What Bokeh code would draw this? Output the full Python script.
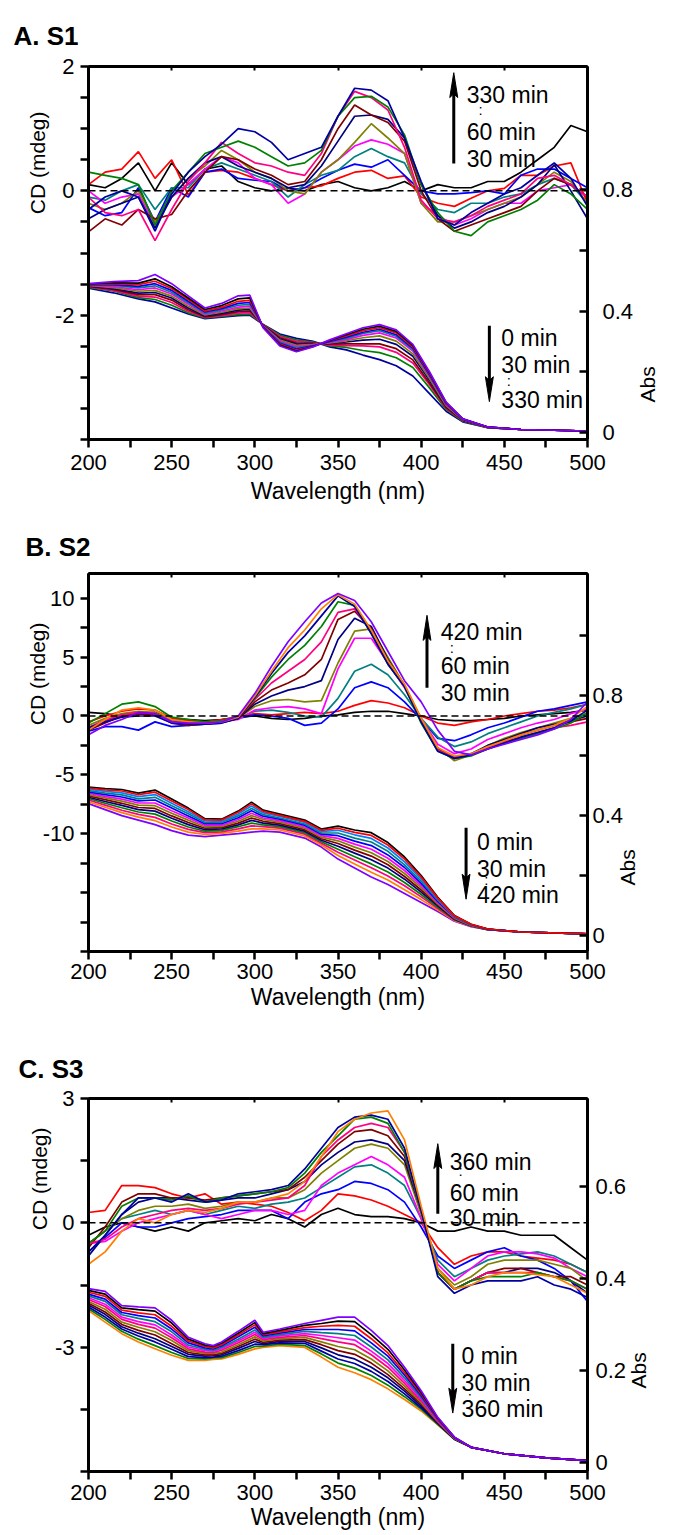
from bokeh.plotting import figure
from bokeh.models import (Range1d, LinearAxis, FixedTicker, Span, Label, Title,
                          NumeralTickFormatter, CustomJSTickFormatter)
from bokeh.layouts import column
from bokeh.embed import file_html
from bokeh.resources import INLINE

FONT = "Liberation Sans"
FS = "22px"
FT = "23px"

COL = {"black": "#000000", "red": "#FF0000", "blue": "#0000FF", "teal": "#008080",
       "magenta": "#FF00FF", "olive": "#808000", "navy": "#000080", "maroon": "#800000",
       "pink": "#FF0080", "green": "#008000", "darkblue": "#0000A0", "orange": "#FF8000",
       "violet": "#8000FF", "sky": "#0080FF"}

# ---------------- wavelength grids ----------------
WL_CD = [200, 210, 220, 230, 240, 250, 260, 270, 280, 290, 300, 310, 320, 330, 340, 350,
         360, 370, 380, 390, 400, 410, 420, 430, 440, 450, 460, 470, 480, 490, 500]
WL_ABS_A = [200, 215, 230, 240, 250, 260, 270, 280, 290, 297, 305, 315, 325, 335, 345, 355,
            365, 375, 385, 395, 405, 415, 425, 440, 460, 500]
WL_ABS_B = [200, 210, 220, 230, 240, 250, 260, 270, 280, 290, 298, 305, 315, 330, 340, 350,
            360, 370, 380, 390, 400, 410, 420, 430, 440, 460, 500]
WL_ABS_C = [200, 210, 220, 230, 240, 250, 260, 270, 275, 280, 290, 300, 305, 315, 330, 340,
            350, 360, 370, 380, 390, 400, 410, 420, 430, 450, 475, 500]

# ---------------- Panel A (S1) CD, mdeg ----------------
A_CD_BLACK = [0.1, 0.05, 0.2, 0.45, 0.0, 0.45, 0.1, 0.35, 0.4, 0.15, 0.05, 0.0, 0.05, 0.0, 0.1, 0.15, 0.05, 0.0, 0.05, 0.15, 0.0, 0.1, 0.05, 0.05, 0.15, 0.15, 0.3, 0.5, 0.7, 1.05, 0.95]
A_CD_RED = [0.1, 0.3, 0.35, 0.63, 0.2, 0.5, -0.07, 0.3, 0.33, 0.3, 0.2, 0.1, 0.0, 0.05, 0.08, 0.2, 0.3, 0.33, 0.2, 0.24, -0.1, -0.2, -0.25, -0.12, 0.0, 0.04, 0.25, 0.25, 0.4, 0.45, -0.2]
A_CD_BLUE = [-0.27, -0.4, -0.35, 0.05, -0.5, 0.05, -0.1, 0.3, 0.35, 0.2, 0.17, 0.15, 0.0, 0.05, 0.2, 0.33, 0.43, 0.38, 0.5, 0.25, 0.0, -0.05, -0.05, -0.03, 0.0, -0.05, 0.25, 0.35, 0.35, 0.2, 0.05]
A_CD_TEAL = [-0.1, -0.15, 0.0, 0.1, -0.3, 0.05, 0.05, 0.35, 0.45, 0.35, 0.25, 0.15, -0.1, 0.1, 0.25, 0.33, 0.55, 0.68, 0.55, 0.45, -0.05, -0.3, -0.35, -0.2, -0.2, -0.1, -0.05, 0.1, 0.2, 0.1, -0.2]
A_CD_MAGENTA = [0.0, -0.2, -0.1, -0.05, -0.55, -0.1, 0.1, 0.35, 0.55, 0.45, 0.2, 0.1, -0.2, -0.05, 0.3, 0.5, 0.72, 0.82, 0.75, 0.6, -0.2, -0.4, -0.55, -0.45, -0.3, -0.2, -0.2, 0.0, 0.05, 0.1, -0.1]
A_CD_OLIVE = [-0.2, -0.3, -0.2, 0.0, -0.5, -0.1, 0.2, 0.4, 0.65, 0.5, 0.3, 0.2, 0.0, -0.05, 0.3, 0.5, 0.78, 1.08, 0.85, 0.6, -0.2, -0.5, -0.5, -0.4, -0.3, -0.2, -0.1, 0.1, 0.3, 0.15, -0.2]
A_CD_NAVY = [-0.45, -0.3, -0.2, -0.1, -0.6, -0.1, 0.2, 0.45, 0.55, 0.4, 0.3, 0.2, 0.05, 0.1, 0.4, 0.8, 1.2, 1.22, 1.15, 0.85, 0.1, -0.4, -0.6, -0.5, -0.35, -0.25, -0.1, 0.1, 0.42, 0.0, -0.45]
A_CD_MAROON = [-0.66, -0.45, -0.55, -0.3, -0.45, -0.38, 0.0, 0.3, 0.55, 0.5, 0.35, 0.25, 0.1, 0.15, 0.5, 1.0, 1.38, 1.22, 1.1, 0.8, 0.0, -0.45, -0.65, -0.55, -0.45, -0.35, -0.25, 0.0, 0.2, 0.1, -0.1]
A_CD_PINK = [-0.1, -0.35, -0.4, -0.3, -0.8, -0.3, 0.15, 0.45, 0.78, 0.6, 0.45, 0.4, 0.3, 0.25, 0.6, 1.2, 1.6, 1.5, 1.3, 0.7, -0.15, -0.45, -0.5, -0.4, -0.25, -0.15, -0.05, 0.2, 0.25, 0.1, -0.1]
A_CD_GREEN = [0.3, 0.25, 0.2, 0.1, -0.55, 0.0, 0.3, 0.6, 0.7, 0.8, 0.7, 0.55, 0.4, 0.45, 0.65, 1.2, 1.5, 1.52, 1.35, 0.9, 0.1, -0.35, -0.65, -0.72, -0.5, -0.4, -0.3, -0.15, 0.1, -0.05, -0.3]
A_CD_DARKBLUE = [-0.3, -0.1, 0.0, -0.1, -0.65, -0.05, 0.3, 0.55, 0.75, 1.0, 0.95, 0.78, 0.5, 0.6, 0.7, 1.2, 1.65, 1.62, 1.45, 0.85, 0.15, -0.45, -0.55, -0.35, -0.2, -0.05, 0.05, 0.25, 0.45, 0.2, -0.25]

# ---------------- Panel A (S1) Abs ----------------
A_ABS_VIOLET = [.490, .497, .500, .520, .490, .450, .410, .425, .450, .452, .345, .285, .266, .282, .305, .325, .345, .355, .338, .290, .200, .100, .045, .018, .010, .005]
A_ABS_BLACK = [.489, .493, .492, .506, .480, .443, .405, .418, .440, .443, .346, .288, .268, .283, .303, .322, .340, .350, .333, .286, .197, .099, .045, .018, .010, .005]
A_ABS_RED = [.488, .490, .487, .498, .474, .438, .400, .412, .432, .435, .347, .291, .271, .284, .302, .318, .335, .345, .328, .281, .194, .097, .044, .018, .010, .005]
A_ABS_BLUE = [.487, .487, .481, .490, .468, .432, .397, .408, .425, .428, .348, .294, .275, .285, .300, .314, .330, .340, .322, .277, .190, .095, .044, .018, .010, .005]
A_ABS_TEAL = [.486, .484, .476, .483, .462, .427, .393, .404, .419, .422, .349, .297, .279, .286, .299, .310, .326, .335, .317, .273, .188, .094, .043, .018, .010, .005]
A_ABS_MAGENTA = [.485, .480, .470, .476, .456, .422, .390, .400, .413, .416, .350, .300, .283, .288, .297, .306, .320, .328, .311, .268, .185, .092, .043, .018, .010, .005]
A_ABS_OLIVE = [.484, .477, .465, .468, .449, .416, .387, .396, .408, .410, .351, .304, .287, .290, .295, .302, .312, .318, .301, .259, .178, .089, .042, .017, .010, .005]
A_ABS_NAVY = [.483, .474, .459, .461, .443, .410, .384, .392, .403, .405, .352, .308, .291, .292, .293, .298, .304, .307, .290, .251, .172, .086, .041, .017, .010, .005]
A_ABS_MAROON = [.481, .471, .454, .454, .436, .404, .381, .388, .398, .400, .353, .312, .295, .294, .291, .292, .292, .292, .276, .239, .163, .082, .040, .017, .010, .005]
A_ABS_PINK = [.480, .468, .449, .446, .428, .399, .379, .385, .393, .395, .354, .316, .300, .296, .288, .286, .285, .282, .264, .229, .157, .080, .039, .017, .010, .005]
A_ABS_GREEN = [.478, .466, .444, .438, .419, .394, .377, .382, .388, .390, .355, .320, .305, .298, .285, .280, .270, .263, .246, .214, .147, .076, .037, .016, .010, .005]
A_ABS_DARKBLUE = [.475, .460, .440, .430, .410, .390, .375, .380, .385, .386, .356, .324, .310, .300, .282, .272, .255, .240, .220, .186, .128, .070, .035, .016, .010, .005]

# ---------------- Panel B (S2) CD, mdeg ----------------
B_CD_BLACK = [0.3, 0.2, 0.0, 0.2, 0.3, -0.2, -0.3, -0.4, -0.3, -0.1, 0.0, -0.2, -0.3, -0.2, 0.0, 0.1, 0.3, 0.4, 0.4, 0.2, 0.0, -0.3, -0.4, -0.4, -0.3, -0.2, 0.0, 0.1, 0.2, 0.3, 0.5]
B_CD_RED = [-0.5, 0.0, 0.4, 0.6, 0.5, -0.2, -0.4, -0.5, -0.3, -0.1, 0.2, 0.1, 0.2, 0.3, 0.2, 0.4, 0.9, 1.3, 1.1, 0.7, 0.0, -0.6, -0.8, -0.5, -0.3, 0.0, 0.2, 0.4, 0.5, 0.7, 1.0]
B_CD_BLUE = [-1.3, -0.9, -0.9, -1.2, -0.5, -0.9, -0.8, -0.7, -0.6, -0.2, 0.1, 0.0, -0.2, -0.8, -0.6, 0.6, 2.4, 2.9, 2.4, 1.2, -0.3, -1.9, -2.1, -1.6, -1.0, -0.6, -0.1, 0.4, 0.6, 0.9, 1.2]
B_CD_TEAL = [-1.0, -0.4, 0.1, 0.3, 0.2, -0.4, -0.6, -0.6, -0.5, -0.2, 0.4, 0.5, 0.3, 0.0, -0.1, 1.5, 3.8, 4.4, 3.5, 1.8, -0.2, -1.8, -2.6, -2.2, -1.5, -1.0, -0.5, 0.0, 0.3, 0.6, 1.0]
B_CD_MAGENTA = [-1.0, -0.3, 0.0, 0.3, 0.2, -0.4, -0.6, -0.6, -0.5, -0.3, 0.5, 0.7, 0.8, 0.6, 0.2, 4.0, 6.6, 6.6, 4.5, 2.4, -0.2, -2.4, -3.2, -2.8, -2.0, -1.5, -1.0, -0.6, -0.3, 0.2, 0.6]
B_CD_OLIVE = [-0.8, -0.2, 0.2, 0.4, 0.3, -0.4, -0.6, -0.6, -0.5, -0.2, 0.8, 1.3, 1.4, 1.2, 1.3, 4.5, 7.2, 7.4, 5.0, 2.6, -0.2, -2.7, -3.8, -3.3, -2.5, -1.9, -1.4, -1.0, -0.6, -0.2, 0.2]
B_CD_NAVY = [-1.0, -0.5, 0.0, 0.2, 0.1, -0.5, -0.7, -0.7, -0.5, -0.2, 1.0, 1.7, 2.2, 2.5, 3.0, 6.5, 8.3, 7.6, 4.8, 2.6, -0.3, -2.8, -3.6, -3.2, -2.5, -2.0, -1.5, -1.0, -0.7, -0.4, 0.0]
B_CD_MAROON = [-1.2, -0.6, 0.0, 0.2, 0.1, -0.6, -0.8, -0.7, -0.5, -0.2, 1.2, 2.2, 2.8, 3.5, 4.8, 8.2, 8.9, 7.4, 4.6, 2.6, -0.4, -2.9, -3.6, -3.3, -2.7, -2.1, -1.6, -1.2, -0.8, -0.5, -0.2]
B_CD_PINK = [-1.0, -0.4, 0.1, 0.3, 0.2, -0.5, -0.7, -0.7, -0.5, -0.1, 1.4, 2.8, 3.8, 4.8, 6.3, 8.8, 9.1, 7.2, 4.5, 2.5, -0.5, -2.9, -3.5, -3.3, -2.7, -2.2, -1.8, -1.4, -1.0, -0.8, -0.5]
B_CD_GREEN = [-0.6, 0.2, 1.0, 1.2, 0.8, -0.1, -0.3, -0.5, -0.4, -0.1, 1.5, 3.3, 4.8, 6.0, 7.6, 9.7, 9.4, 7.0, 4.4, 2.5, -0.6, -3.0, -3.6, -3.4, -2.8, -2.3, -1.9, -1.5, -1.1, -0.6, 0.3]
B_CD_DARKBLUE = [-1.0, -0.5, -0.1, 0.0, 0.0, -0.6, -0.7, -0.7, -0.6, -0.2, 1.6, 3.6, 5.4, 6.8, 8.5, 10.2, 9.3, 7.0, 4.4, 2.5, -0.5, -3.0, -3.6, -3.3, -2.8, -2.3, -1.8, -1.4, -1.0, -0.4, 0.5]
B_CD_ORANGE = [-1.2, -0.3, 0.5, 0.7, 0.5, -0.3, -0.5, -0.6, -0.5, -0.1, 1.7, 3.8, 5.8, 7.3, 9.1, 10.3, 9.5, 7.3, 4.7, 2.7, -0.2, -2.7, -3.4, -3.2, -2.6, -2.1, -1.6, -1.2, -0.8, -0.2, 0.8]
B_CD_VIOLET = [-1.6, -0.8, -0.3, 0.3, 0.2, -0.5, -0.6, -0.6, -0.5, 0.0, 1.9, 4.2, 6.3, 8.0, 9.6, 10.4, 9.8, 8.0, 5.5, 3.0, 1.2, -1.2, -3.0, -3.3, -2.8, -2.4, -2.0, -1.6, -1.1, -0.3, 1.2]

# ---------------- Panel B (S2) Abs ----------------
B_ABS_BLACK = [.495, .490, .487, .475, .485, .455, .425, .390, .388, .415, .445, .418, .405, .385, .355, .365, .352, .343, .310, .262, .200, .128, .067, .038, .022, .012, .006]
B_ABS_RED = [.492, .486, .482, .470, .478, .449, .420, .386, .385, .411, .439, .414, .401, .381, .351, .358, .344, .334, .302, .255, .195, .125, .066, .038, .022, .012, .006]
B_ABS_SKY = [.488, .481, .476, .463, .470, .441, .413, .382, .381, .405, .432, .409, .397, .377, .347, .351, .336, .324, .292, .246, .188, .122, .065, .037, .022, .012, .006]
B_ABS_TEAL = [.483, .475, .469, .456, .461, .433, .406, .377, .377, .399, .424, .403, .392, .372, .342, .342, .325, .312, .281, .236, .181, .118, .063, .036, .022, .012, .006]
B_ABS_BLUE = [.479, .470, .462, .449, .452, .425, .399, .373, .373, .393, .416, .398, .388, .368, .338, .333, .315, .300, .269, .227, .174, .114, .062, .036, .021, .012, .006]
B_ABS_MAGENTA = [.475, .464, .455, .442, .442, .416, .392, .368, .368, .387, .408, .392, .383, .363, .333, .324, .305, .288, .258, .217, .167, .110, .060, .035, .021, .012, .006]
B_ABS_OLIVE = [.470, .459, .448, .435, .433, .408, .385, .363, .364, .381, .400, .387, .378, .358, .328, .316, .295, .276, .247, .207, .160, .106, .058, .034, .021, .012, .006]
B_ABS_MAROON = [.466, .453, .441, .427, .424, .399, .377, .358, .360, .375, .392, .381, .373, .353, .323, .307, .285, .265, .236, .197, .152, .103, .057, .034, .021, .012, .006]
B_ABS_NAVY = [.461, .447, .434, .420, .415, .391, .370, .353, .356, .369, .384, .375, .368, .348, .318, .298, .275, .253, .225, .188, .145, .099, .055, .033, .021, .012, .006]
B_ABS_GREEN = [.457, .441, .426, .412, .405, .382, .362, .348, .351, .363, .375, .369, .363, .343, .313, .288, .263, .239, .212, .177, .137, .094, .054, .032, .020, .012, .006]
B_ABS_PINK = [.452, .435, .418, .404, .394, .372, .354, .343, .346, .356, .366, .363, .358, .338, .308, .278, .252, .226, .199, .166, .129, .090, .052, .032, .020, .012, .006]
B_ABS_ORANGE = [.446, .428, .410, .395, .383, .362, .345, .337, .341, .348, .356, .356, .352, .332, .302, .267, .239, .211, .185, .153, .120, .085, .050, .031, .020, .012, .006]
B_ABS_VIOLET = [.440, .420, .400, .385, .370, .350, .335, .330, .335, .340, .345, .348, .345, .325, .295, .255, .225, .195, .170, .140, .110, .080, .048, .030, .020, .012, .006]

# ---------------- Panel C (S3) CD, mdeg ----------------
C_CD_BLACK = [-0.3, -0.1, 0.0, -0.1, -0.2, -0.1, -0.2, 0.0, 0.05, 0.1, 0.05, 0.2, 0.1, -0.1, 0.2, 0.35, 0.2, 0.15, 0.15, 0.1, 0.0, -0.2, -0.2, -0.1, -0.2, -0.2, -0.3, -0.3, -0.3, -0.6, -0.9]
C_CD_RED = [0.25, 0.3, 0.9, 0.9, 0.85, 0.7, 0.6, 0.7, 0.45, 0.5, 0.45, 0.4, 0.25, 0.05, 0.3, 0.7, 0.65, 0.55, 0.4, 0.2, 0.0, -0.6, -1.0, -0.8, -0.7, -0.7, -0.8, -0.85, -0.9, -1.0, -1.2]
C_CD_BLUE = [-0.7, -0.35, 0.0, -0.1, -0.1, 0.0, 0.1, 0.15, 0.2, 0.3, 0.3, 0.3, 0.1, 0.5, 0.7, 0.8, 1.0, 0.95, 0.8, 0.5, -0.1, -0.8, -1.1, -0.9, -0.7, -0.6, -0.8, -0.9, -1.1, -1.4, -1.9]
C_CD_TEAL = [-0.5, -0.2, 0.1, 0.2, 0.3, 0.2, 0.3, 0.2, 0.3, 0.4, 0.35, 0.45, 0.5, 0.6, 0.85, 1.1, 1.35, 1.4, 1.2, 0.9, 0.1, -0.9, -1.3, -1.1, -0.9, -0.8, -0.75, -0.7, -0.8, -1.0, -1.2]
C_CD_MAGENTA = [-0.5, -0.45, -0.2, 0.0, 0.1, 0.2, 0.3, 0.2, 0.1, 0.2, 0.3, 0.3, 0.2, 0.3, 0.9, 1.2, 1.4, 1.6, 1.4, 1.1, 0.1, -1.0, -1.4, -1.1, -0.8, -0.7, -0.7, -0.75, -0.85, -1.1, -1.3]
C_CD_OLIVE = [-0.5, -0.2, 0.1, 0.3, 0.4, 0.4, 0.45, 0.35, 0.4, 0.5, 0.5, 0.6, 0.6, 0.8, 1.2, 1.5, 1.8, 1.9, 1.8, 1.4, 0.2, -1.1, -1.5, -1.3, -1.0, -0.9, -0.9, -0.9, -1.0, -1.1, -1.4]
C_CD_NAVY = [-0.8, -0.3, 0.2, 0.5, 0.6, 0.6, 0.55, 0.5, 0.55, 0.6, 0.6, 0.7, 0.8, 1.0, 1.4, 1.7, 1.95, 2.0, 1.9, 1.5, 0.3, -1.2, -1.6, -1.4, -1.2, -1.2, -1.1, -1.1, -1.2, -1.4, -1.7]
C_CD_MAROON = [-0.6, -0.1, 0.5, 0.7, 0.7, 0.6, 0.6, 0.55, 0.6, 0.65, 0.7, 0.75, 0.8, 1.1, 1.5, 1.9, 2.2, 2.25, 2.1, 1.6, 0.3, -1.2, -1.6, -1.4, -1.2, -1.1, -1.1, -1.2, -1.3, -1.3, -1.5]
C_CD_PINK = [-0.5, -0.4, -0.1, 0.1, 0.2, 0.3, 0.35, 0.3, 0.35, 0.45, 0.5, 0.55, 0.6, 0.9, 1.6, 2.0, 2.3, 2.4, 2.3, 1.7, 0.3, -1.2, -1.6, -1.4, -1.2, -1.2, -1.2, -1.2, -1.3, -1.4, -1.6]
C_CD_GREEN = [-0.5, -0.2, 0.4, 0.6, 0.6, 0.55, 0.65, 0.5, 0.6, 0.65, 0.7, 0.75, 0.85, 1.2, 1.7, 2.1, 2.5, 2.55, 2.4, 1.7, 0.3, -1.2, -1.6, -1.4, -1.3, -1.3, -1.3, -1.2, -1.3, -1.4, -1.6]
C_CD_DARKBLUE = [-0.7, -0.3, 0.2, 0.6, 0.6, 0.5, 0.7, 0.5, 0.55, 0.7, 0.75, 0.8, 0.9, 1.3, 1.8, 2.3, 2.55, 2.6, 2.5, 1.8, 0.3, -1.3, -1.7, -1.5, -1.4, -1.4, -1.4, -1.3, -1.5, -1.6, -1.8]
C_CD_ORANGE = [-1.0, -0.7, -0.2, 0.1, 0.0, 0.2, 0.3, 0.25, 0.35, 0.5, 0.5, 0.6, 0.7, 1.0, 1.6, 2.2, 2.5, 2.65, 2.7, 2.0, 0.4, -1.1, -1.6, -1.5, -1.3, -1.2, -1.2, -1.25, -1.3, -1.5, -1.7]

# ---------------- Panel C (S3) Abs ----------------
C_ABS_VIOLET = [.378, .372, .341, .338, .336, .309, .272, .258, .254, .262, .285, .309, .283, .290, .302, .309, .316, .316, .287, .254, .207, .156, .098, .055, .033, .019, .010, .004]
C_ABS_BLACK = [.374, .366, .336, .332, .329, .303, .268, .255, .252, .259, .281, .304, .280, .287, .298, .302, .307, .306, .278, .246, .201, .152, .097, .055, .033, .019, .010, .004]
C_ABS_RED = [.370, .361, .331, .325, .321, .296, .264, .252, .249, .256, .277, .299, .278, .284, .293, .296, .298, .296, .269, .238, .195, .149, .095, .054, .033, .019, .010, .004]
C_ABS_BLUE = [.366, .355, .326, .319, .314, .290, .260, .249, .247, .253, .273, .294, .275, .281, .289, .289, .289, .286, .260, .231, .190, .145, .094, .054, .033, .019, .010, .004]
C_ABS_TEAL = [.362, .350, .321, .313, .306, .284, .255, .246, .244, .250, .268, .288, .272, .278, .285, .282, .280, .276, .251, .223, .184, .141, .093, .053, .033, .019, .010, .004]
C_ABS_MAGENTA = [.358, .344, .316, .306, .299, .277, .251, .243, .242, .247, .264, .283, .269, .275, .280, .276, .271, .266, .242, .215, .178, .138, .091, .053, .033, .019, .010, .004]
C_ABS_PINK = [.354, .339, .311, .300, .292, .271, .247, .240, .239, .244, .260, .278, .267, .272, .276, .269, .262, .256, .234, .207, .172, .134, .090, .053, .033, .019, .010, .004]
C_ABS_OLIVE = [.350, .333, .305, .294, .284, .265, .243, .237, .237, .240, .256, .273, .264, .269, .272, .262, .252, .245, .225, .199, .166, .130, .089, .052, .033, .019, .010, .004]
C_ABS_MAROON = [.346, .327, .300, .287, .277, .258, .239, .234, .234, .237, .252, .268, .261, .266, .267, .256, .243, .235, .216, .191, .160, .127, .087, .052, .033, .019, .010, .004]
C_ABS_NAVY = [.342, .322, .295, .281, .269, .252, .235, .231, .232, .234, .248, .263, .258, .263, .263, .249, .234, .225, .207, .184, .155, .123, .086, .051, .033, .019, .010, .004]
C_ABS_DARKBLUE = [.338, .316, .290, .275, .262, .246, .230, .228, .229, .231, .243, .257, .256, .260, .259, .242, .225, .215, .198, .176, .149, .119, .085, .051, .033, .019, .010, .004]
C_ABS_GREEN = [.334, .311, .285, .268, .254, .239, .226, .225, .227, .228, .239, .252, .253, .257, .254, .236, .216, .205, .189, .168, .143, .116, .083, .050, .033, .019, .010, .004]
C_ABS_ORANGE = [.330, .305, .280, .262, .247, .233, .222, .222, .224, .225, .235, .247, .250, .254, .250, .229, .207, .195, .180, .160, .137, .112, .082, .050, .033, .019, .010, .004]

# ---------------- ticks ----------------
X_TICKS = [200, 250, 300, 350, 400, 450, 500]
X_MINOR = [225, 275, 325, 375, 425, 475]
X_TOP = [250, 300, 350, 400, 450]

A_CD_SERIES = [("black", A_CD_BLACK), ("red", A_CD_RED), ("blue", A_CD_BLUE), ("teal", A_CD_TEAL),
               ("magenta", A_CD_MAGENTA), ("olive", A_CD_OLIVE), ("navy", A_CD_NAVY),
               ("maroon", A_CD_MAROON), ("pink", A_CD_PINK), ("green", A_CD_GREEN),
               ("darkblue", A_CD_DARKBLUE)]
A_ABS_SERIES = [("darkblue", A_ABS_DARKBLUE), ("green", A_ABS_GREEN), ("pink", A_ABS_PINK),
                ("maroon", A_ABS_MAROON), ("navy", A_ABS_NAVY), ("olive", A_ABS_OLIVE),
                ("magenta", A_ABS_MAGENTA), ("teal", A_ABS_TEAL), ("blue", A_ABS_BLUE),
                ("red", A_ABS_RED), ("black", A_ABS_BLACK), ("violet", A_ABS_VIOLET)]
B_CD_SERIES = [("black", B_CD_BLACK), ("red", B_CD_RED), ("blue", B_CD_BLUE), ("teal", B_CD_TEAL),
               ("magenta", B_CD_MAGENTA), ("olive", B_CD_OLIVE), ("navy", B_CD_NAVY),
               ("maroon", B_CD_MAROON), ("pink", B_CD_PINK), ("green", B_CD_GREEN),
               ("darkblue", B_CD_DARKBLUE), ("orange", B_CD_ORANGE), ("violet", B_CD_VIOLET)]
B_ABS_SERIES = [("violet", B_ABS_VIOLET), ("orange", B_ABS_ORANGE), ("pink", B_ABS_PINK),
                ("green", B_ABS_GREEN), ("navy", B_ABS_NAVY), ("maroon", B_ABS_MAROON),
                ("olive", B_ABS_OLIVE), ("magenta", B_ABS_MAGENTA), ("blue", B_ABS_BLUE),
                ("teal", B_ABS_TEAL), ("sky", B_ABS_SKY), ("black", B_ABS_BLACK), ("red", B_ABS_RED)]
C_CD_SERIES = [("black", C_CD_BLACK), ("red", C_CD_RED), ("blue", C_CD_BLUE), ("teal", C_CD_TEAL),
               ("magenta", C_CD_MAGENTA), ("olive", C_CD_OLIVE), ("navy", C_CD_NAVY),
               ("maroon", C_CD_MAROON), ("pink", C_CD_PINK), ("green", C_CD_GREEN),
               ("darkblue", C_CD_DARKBLUE), ("orange", C_CD_ORANGE)]
C_ABS_SERIES = [("orange", C_ABS_ORANGE), ("green", C_ABS_GREEN), ("darkblue", C_ABS_DARKBLUE),
                ("navy", C_ABS_NAVY), ("maroon", C_ABS_MAROON), ("olive", C_ABS_OLIVE),
                ("pink", C_ABS_PINK), ("magenta", C_ABS_MAGENTA), ("teal", C_ABS_TEAL),
                ("blue", C_ABS_BLUE), ("red", C_ABS_RED), ("black", C_ABS_BLACK), ("violet", C_ABS_VIOLET)]


def style_axis(ax, standoff):
    ax.axis_line_width = 3
    ax.axis_line_color = "black"
    ax.major_tick_line_width = 2.5
    ax.minor_tick_line_width = 2.5
    ax.major_tick_line_color = "black"
    ax.minor_tick_line_color = "black"
    ax.major_label_text_font = FONT
    ax.major_label_text_font_size = FS
    ax.major_label_text_color = "black"
    ax.major_label_standoff = standoff


def make_panel(cfg):
    p = figure(width=673, height=cfg["h"], x_range=Range1d(200, 500),
               y_range=Range1d(*cfg["cd_range"]), output_backend="svg", toolbar_location=None,
               min_border_left=cfg["bl"], min_border_right=cfg["br"],
               min_border_top=cfg["bt"], min_border_bottom=cfg["bb"], title=cfg["title"])
    p.title.align = "left"
    p.title.offset = cfg["title_offset"]
    p.title.standoff = cfg["title_standoff"]
    p.title.text_font = FONT
    p.title.text_font_size = "26px"
    p.title.text_font_style = "bold"
    p.title.text_color = "black"

    p.extra_y_ranges = {"abs": Range1d(*cfg["abs_range"])}
    p.xgrid.visible = False
    p.ygrid.visible = False
    p.outline_line_color = "black"
    p.outline_line_width = 2
    p.background_fill_color = "white"
    p.border_fill_color = "white"

    xa = p.xaxis[0]
    xa.ticker = FixedTicker(ticks=X_TICKS, minor_ticks=X_MINOR)
    style_axis(xa, cfg["x_standoff"])
    xa.major_tick_out = 8
    xa.major_tick_in = 0
    xa.minor_tick_out = 8
    xa.minor_tick_in = 0
    xa.axis_label = "Wavelength (nm)"
    xa.axis_label_text_font = FONT
    xa.axis_label_text_font_size = FT
    xa.axis_label_text_font_style = "normal"
    xa.axis_label_text_color = "black"
    xa.axis_label_standoff = cfg["xl_standoff"]

    ya = p.yaxis[0]
    ya.ticker = FixedTicker(ticks=cfg["cd_ticks"], minor_ticks=cfg["cd_minor"])
    ya.formatter = NumeralTickFormatter(format="0")
    style_axis(ya, 6)
    ya.major_tick_out = 8
    ya.major_tick_in = 0
    ya.minor_tick_out = 8
    ya.minor_tick_in = 0

    ra = LinearAxis(y_range_name="abs",
                    ticker=FixedTicker(ticks=cfg["abs_ticks"], minor_ticks=cfg["abs_minor"]),
                    formatter=NumeralTickFormatter(format="0.[0]"))
    style_axis(ra, cfg["r_standoff"])
    ra.major_tick_in = 8
    ra.major_tick_out = 0
    ra.minor_tick_in = 8
    ra.minor_tick_out = 0
    p.add_layout(ra, "right")

    # "Abs" title: a label-only axis outside the Abs tick labels
    la = LinearAxis(y_range_name="abs",
                    ticker=FixedTicker(ticks=[cfg["abs_title_at"]], minor_ticks=[]),
                    formatter=CustomJSTickFormatter(code="return 'Abs';"))
    la.axis_line_color = None
    la.major_tick_line_color = None
    la.minor_tick_line_color = None
    la.major_tick_in = 0
    la.major_tick_out = 0
    la.minor_tick_in = 0
    la.minor_tick_out = 0
    la.major_label_orientation = 1.5708
    la.major_label_standoff = cfg["abs_standoff"]
    la.major_label_text_font = FONT
    la.major_label_text_font_size = "21px"
    la.major_label_text_color = "black"
    p.add_layout(la, "right")

    # top frame edge with small inward ticks, no labels drawn
    ta = LinearAxis(ticker=FixedTicker(ticks=X_TOP, minor_ticks=[]))
    ta.axis_line_width = 3
    ta.major_tick_in = 4
    ta.major_tick_out = 0
    ta.major_tick_line_width = 2
    ta.minor_tick_in = 0
    ta.minor_tick_out = 0
    ta.major_label_text_font_size = "0px"
    ta.major_label_text_color = None
    ta.major_label_standoff = 0
    p.add_layout(ta, "above")

    p.add_layout(Title(text="CD (mdeg)", align="right", offset=cfg["cd_offset"],
                       standoff=cfg["cd_standoff"], text_font=FONT, text_font_size="21px",
                       text_font_style="normal", text_color="black"), "left")

    for name, vals in cfg["abs_series"]:
        p.line(cfg["abs_wl"], vals, line_color=COL[name], line_width=1.7, y_range_name="abs")
    for name, vals in cfg["cd_series"]:
        p.line(WL_CD, vals, line_color=COL[name], line_width=1.7)

    p.add_layout(Span(location=0, dimension="width", line_color="black",
                      line_dash="7 4", line_width=1.5))
    return p


def add_text(p, x, y, s, size=FT):
    p.add_layout(Label(x=x, y=y, text=s, text_font=FONT, text_font_size=size,
                       text_color="black", text_baseline="alphabetic"))


def add_arrow(p, x, y_tail, y_tip, head_len, half_w):
    sgn = 1 if y_tip > y_tail else -1
    base = y_tip - sgn * head_len
    p.line([x, x], [y_tail, base + sgn * head_len * 0.3], line_color="black", line_width=3)
    p.patch([x - half_w, x, x + half_w, x], [base, y_tip, base, base + sgn * head_len * 0.15],
            fill_color="black", line_color="black", line_width=1)


# ---------------- Panel A ----------------
pa = make_panel(dict(h=512, bl=88, br=81, bt=66, bb=73, cd_range=(-4, 2),
                     abs_range=(-0.023, 1.205), cd_ticks=[-2, 0, 2],
                     cd_minor=[-4, -3.5, -3, -2.5, -1.5, -1, -0.5, 0.5, 1, 1.5],
                     abs_ticks=[0, 0.4, 0.8], abs_minor=[0.2, 0.6], r_standoff=15,
                     x_standoff=7, xl_standoff=5, abs_wl=WL_ABS_A,
                     abs_series=A_ABS_SERIES, cd_series=A_CD_SERIES,
                     title="A. S1", title_offset=-75, title_standoff=32,
                     cd_offset=45, cd_standoff=6, abs_title_at=0.099, abs_standoff=11))
add_arrow(pa, 419.6, 0.44, 1.90, 0.40, 2.4)
add_text(pa, 427.4, 1.54, "330 min")
add_text(pa, 434.5, 1.31, ":", size="15px")
add_text(pa, 427.4, 0.94, "60 min")
add_text(pa, 427.4, 0.52, "30 min")
add_arrow(pa, 441.0, -2.17, -3.39, 0.40, 2.4)
add_text(pa, 448.2, -2.37, "0 min")
add_text(pa, 448.2, -2.80, "30 min")
add_text(pa, 451.5, -3.05, ":", size="15px")
add_text(pa, 448.2, -3.37, "330 min")

# ---------------- Panel B ----------------
pb = make_panel(dict(h=518, bl=76, br=86, bt=61, bb=79, cd_range=(-20, 12.1),
                     abs_range=(-0.053, 1.207), cd_ticks=[-10, -5, 0, 5, 10],
                     cd_minor=[-20, -17.5, -15, -12.5, -7.5, -2.5, 2.5, 7.5],
                     abs_ticks=[0, 0.4, 0.8], abs_minor=[0.2, 0.6, 1.0], r_standoff=5,
                     x_standoff=4, xl_standoff=2, abs_wl=WL_ABS_B,
                     abs_series=B_ABS_SERIES, cd_series=B_CD_SERIES,
                     title="B. S2", title_offset=-63, title_standoff=24,
                     cd_offset=49, cd_standoff=-18, abs_title_at=0.167, abs_standoff=1))
add_arrow(pb, 403.5, 2.39, 8.55, 2.13, 2.35)
add_text(pb, 411.8, 7.09, "420 min")
add_text(pb, 417.2, 5.81, ":", size="15px")
add_text(pb, 411.8, 4.27, "60 min")
add_text(pb, 411.8, 1.97, "30 min")
add_arrow(pb, 427.0, -9.49, -15.56, 2.13, 2.35)
add_text(pb, 433.5, -10.68, "0 min")
add_text(pb, 433.5, -12.99, "30 min")
add_text(pb, 438.0, -13.85, ":", size="15px")
add_text(pb, 433.5, -15.21, "420 min")

# ---------------- Panel C ----------------
pc = make_panel(dict(h=505, bl=83, br=83, bt=68, bb=64, cd_range=(-6, 3),
                     abs_range=(-0.0196, 0.791), cd_ticks=[-3, 0, 3],
                     cd_minor=[-6, -4.5, -1.5, 1.5],
                     abs_ticks=[0, 0.2, 0.4, 0.6], abs_minor=[], r_standoff=8,
                     x_standoff=5, xl_standoff=1, abs_wl=WL_ABS_C,
                     abs_series=C_ABS_SERIES, cd_series=C_CD_SERIES,
                     title="C. S3", title_offset=-70, title_standoff=30,
                     cd_offset=29, cd_standoff=2, abs_title_at=0.161, abs_standoff=9))
add_arrow(pc, 410.0, 0.22, 1.91, 0.60, 2.37)
add_text(pc, 417.2, 1.47, "360 min")
add_text(pc, 422.5, 1.26, ":", size="15px")
add_text(pc, 417.2, 0.72, "60 min")
add_text(pc, 417.2, 0.12, "30 min")
add_arrow(pc, 419.0, -2.92, -4.59, 0.60, 2.37)
add_text(pc, 424.3, -3.21, "0 min")
add_text(pc, 424.3, -3.86, "30 min")
add_text(pc, 428.0, -4.18, ":", size="15px")
add_text(pc, 424.3, -4.49, "360 min")

layout = column(pa, pb, pc, spacing=0)
open("out.html", "w").write(file_html(layout, INLINE))
